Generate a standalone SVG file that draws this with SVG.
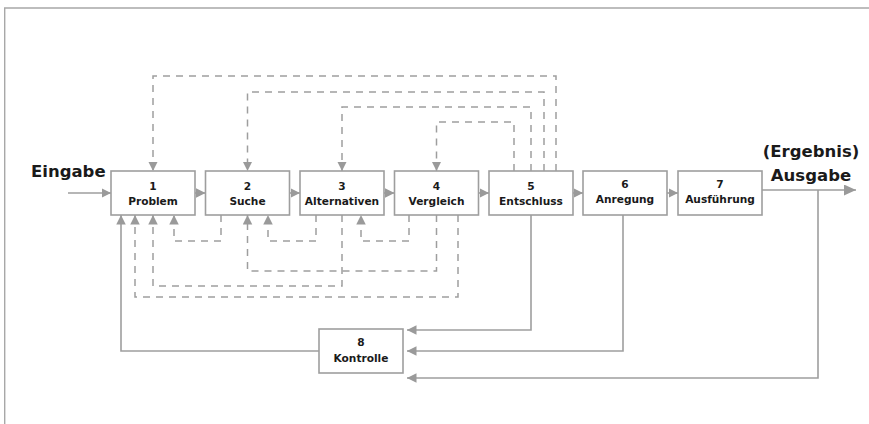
<svg xmlns="http://www.w3.org/2000/svg" width="869" height="424" viewBox="0 0 869 424">
  <style>
    .frame { fill: none; stroke: #a8a8a8; stroke-width: 1.4; }
    .box { fill: #ffffff; stroke: #9e9e9e; stroke-width: 1.6; }
    .solid { fill: none; stroke: #9e9e9e; stroke-width: 1.6; }
    .dash { fill: none; stroke: #9e9e9e; stroke-width: 1.5; stroke-dasharray: 7 6; }
    .lbl { font-family: "DejaVu Sans", "Liberation Sans", sans-serif; font-weight: bold; font-size: 10.6px; fill: #1a1a1a; text-anchor: middle; }
    .io { font-family: "DejaVu Sans", "Liberation Sans", sans-serif; font-weight: bold; font-size: 16.5px; fill: #1a1a1a; }
  </style>
  <defs>
    <marker id="arr" viewBox="0 0 10 10" refX="10" refY="5" markerUnits="userSpaceOnUse" markerWidth="9.5" markerHeight="10" orient="auto">
      <path d="M0,0 L10,5 L0,10 z" fill="#9a9a9a"/>
    </marker>
    <marker id="arrBig" viewBox="0 0 12 11" refX="12" refY="5.5" markerUnits="userSpaceOnUse" markerWidth="12" markerHeight="11" orient="auto">
      <path d="M0,0 L12,5.5 L0,11 z" fill="#9a9a9a"/>
    </marker>
  </defs>

  <!-- page frame -->
  <path class="frame" d="M869,8 H4.7 V424"/>

  <!-- connectors -->
  <g id="connectors">
    <!-- input / output -->
    <path class="solid" d="M68,193 H111" marker-end="url(#arr)"/>
    <path class="solid" d="M762,190 H856" marker-end="url(#arrBig)"/>

    <!-- forward chain -->
    <path class="solid" d="M195,193 H205.5" marker-end="url(#arr)"/>
    <path class="solid" d="M289.5,193 H300" marker-end="url(#arr)"/>
    <path class="solid" d="M384,193 H394.5" marker-end="url(#arr)"/>
    <path class="solid" d="M478.5,193 H489" marker-end="url(#arr)"/>
    <path class="solid" d="M573,193 H583" marker-end="url(#arr)"/>
    <path class="solid" d="M667,193 H678" marker-end="url(#arr)"/>

    <!-- feedback from Entschluss over the top -->
    <path class="dash" d="M556,171 V76 H153 V171" marker-end="url(#arr)"/>
    <path class="dash" d="M544,171 V92 H247.5 V171" marker-end="url(#arr)"/>
    <path class="dash" d="M531,171 V107 H342 V171" marker-end="url(#arr)"/>
    <path class="dash" d="M514,171 V122 H436.5 V171" marker-end="url(#arr)"/>

    <!-- feedback below the chain -->
    <path class="dash" d="M221,215 V241 H174 V215" marker-end="url(#arr)"/>
    <path class="dash" d="M316,215 V241 H268 V215" marker-end="url(#arr)"/>
    <path class="dash" d="M409,215 V241 H361 V215" marker-end="url(#arr)"/>
    <path class="dash" d="M436.5,215 V271 H247.5 V215" marker-end="url(#arr)"/>
    <path class="dash" d="M342,215 V286 H153 V215" marker-end="url(#arr)"/>
    <path class="dash" d="M458,215 V297 H135 V215" marker-end="url(#arr)"/>

    <!-- control loop -->
    <path class="solid" d="M531,215 V330 H407" marker-end="url(#arr)"/>
    <path class="solid" d="M623,215 V351 H407" marker-end="url(#arr)"/>
    <path class="solid" d="M818,190 V378 H407" marker-end="url(#arr)"/>
    <path class="solid" d="M319,351 H121 V215" marker-end="url(#arr)"/>
  </g>

  <!-- input / output labels -->
  <text class="io" x="31" y="177">Eingabe</text>
  <text class="io" x="811" y="157" text-anchor="middle">(Ergebnis)</text>
  <text class="io" x="811" y="181" text-anchor="middle">Ausgabe</text>

  <g id="n1">
    <rect class="box" x="111" y="171" width="84" height="44"/>
    <text class="lbl" x="153" y="189.5">1</text>
    <text class="lbl" x="153" y="204.5">Problem</text>
  </g>
  <g id="n2">
    <rect class="box" x="205.5" y="171" width="84" height="44"/>
    <text class="lbl" x="247.5" y="189.5">2</text>
    <text class="lbl" x="247.5" y="204.5">Suche</text>
  </g>
  <g id="n3">
    <rect class="box" x="300" y="171" width="84" height="44"/>
    <text class="lbl" x="342" y="189.5">3</text>
    <text class="lbl" x="342" y="204.5">Alternativen</text>
  </g>
  <g id="n4">
    <rect class="box" x="394.5" y="171" width="84" height="44"/>
    <text class="lbl" x="436.5" y="189.5">4</text>
    <text class="lbl" x="436.5" y="204.5">Vergleich</text>
  </g>
  <g id="n5">
    <rect class="box" x="489" y="171" width="84" height="44"/>
    <text class="lbl" x="531" y="189.5">5</text>
    <text class="lbl" x="531" y="204.5">Entschluss</text>
  </g>
  <g id="n6">
    <rect class="box" x="583" y="171" width="84" height="44"/>
    <text class="lbl" x="625" y="187.5">6</text>
    <text class="lbl" x="625" y="203">Anregung</text>
  </g>
  <g id="n7">
    <rect class="box" x="678" y="171" width="84" height="44"/>
    <text class="lbl" x="720" y="187.5">7</text>
    <text class="lbl" x="720" y="203">Ausführung</text>
  </g>
  <g id="n8">
    <rect class="box" x="319" y="329" width="84" height="44"/>
    <text class="lbl" x="361" y="345.5">8</text>
    <text class="lbl" x="361" y="361.5">Kontrolle</text>
  </g>
</svg>
